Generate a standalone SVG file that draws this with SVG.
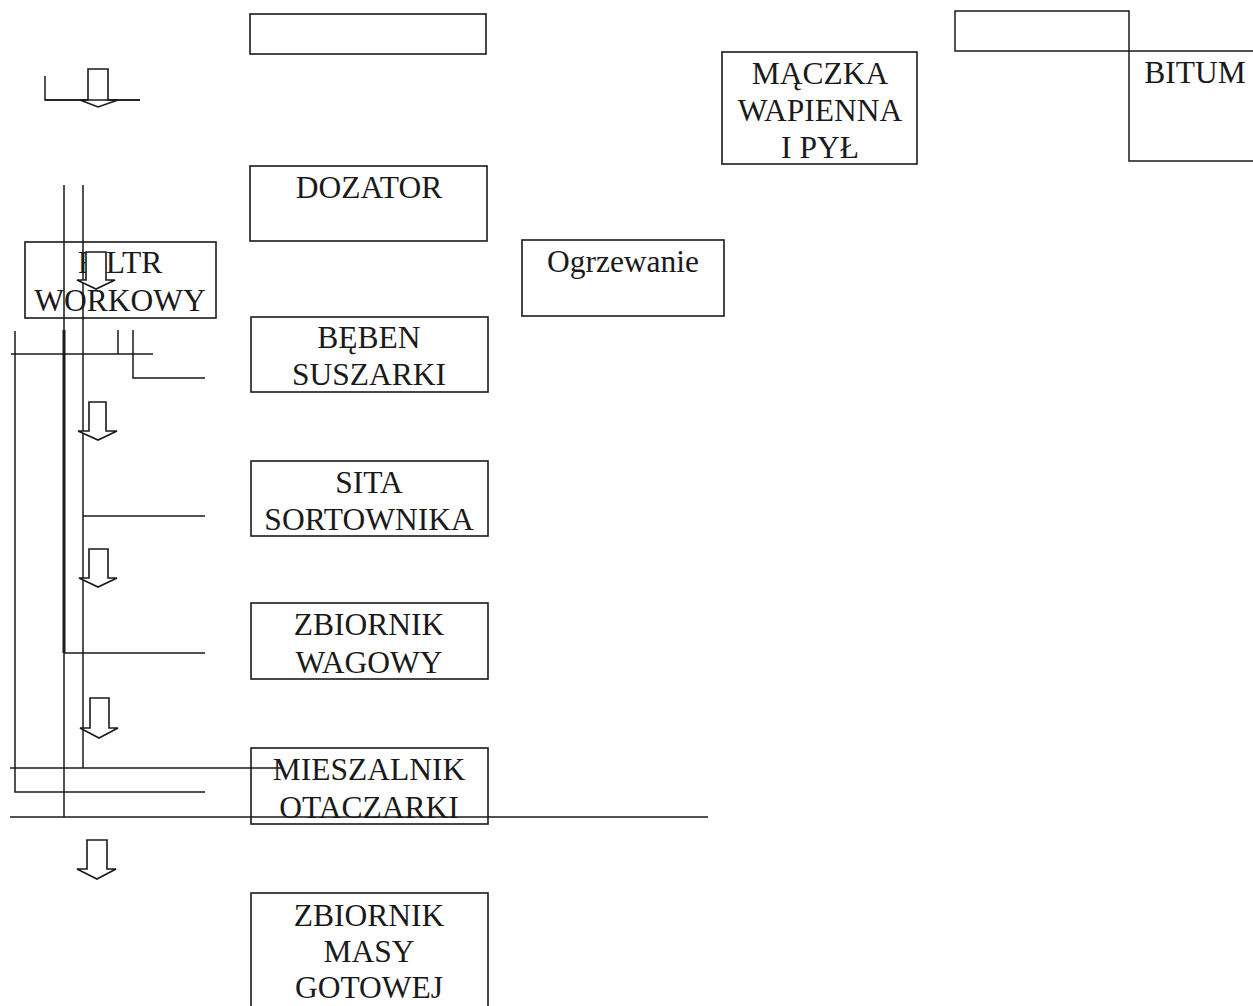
<svg xmlns="http://www.w3.org/2000/svg" width="1253" height="1006" viewBox="0 0 1253 1006">
<style>
.box{fill:#fff;stroke:#1a1a1a;stroke-width:1.6}
.ln{fill:none;stroke:#1a1a1a;stroke-width:1.5}
.thick{fill:none;stroke:#1a1a1a;stroke-width:3}
.arr{fill:#fff;stroke:#1a1a1a;stroke-width:1.6;stroke-linejoin:miter}
text{font-family:"Liberation Serif","Times New Roman",serif;font-size:31.5px;fill:#1a1a1a;text-anchor:middle}
</style>
<rect width="1253" height="1006" fill="#fff"/>
<g id="connectors">
<path class="ln" d="M45 76V100H140"/>
<path class="ln" d="M64 185V330M64 653V817"/>
<path class="thick" d="M64 330V653"/>
<path class="ln" d="M64 653H205"/>
<path class="ln" d="M83 185V768"/>
<path class="ln" d="M83 516H205"/>
<path class="ln" d="M15 331V792H205"/>
<path class="ln" d="M11 354H153"/>
<path class="ln" d="M118 330V354M133 330V378H205"/>
<path class="ln" d="M955 11H1129V51H955ZM1129 51H1253M1129 51V161H1253"/>
</g>
<g id="node-empty"><rect class="box" x="250" y="14" width="236" height="40"/></g>
<g id="node-maczka"><rect class="box" x="722" y="52" width="195" height="112"/>
<text x="820" y="84">MĄCZKA</text><text x="820" y="121">WAPIENNA</text><text x="820" y="158">I PYŁ</text></g>
<g id="node-bitum"><text x="1195" y="83">BITUM</text></g>
<g id="node-dozator"><rect class="box" x="250" y="166" width="237" height="75"/>
<text x="369" y="198">DOZATOR</text></g>
<g id="node-filtr"><rect class="box" x="25" y="242" width="191" height="76" fill-opacity="0"/>
<text x="120" y="273">FILTR</text><text x="120" y="311">WORKOWY</text></g>
<g id="node-ogrzewanie"><rect class="box" x="522" y="240" width="202" height="76"/>
<text x="623" y="272">Ogrzewanie</text></g>
<g id="node-beben"><rect class="box" x="251" y="317" width="237" height="75"/>
<text x="369" y="348">BĘBEN</text><text x="369" y="385">SUSZARKI</text></g>
<g id="node-sita"><rect class="box" x="251" y="461" width="237" height="75"/>
<text x="369" y="493">SITA</text><text x="369" y="530">SORTOWNIKA</text></g>
<g id="node-zbiornik-wagowy"><rect class="box" x="251" y="603" width="237" height="76"/>
<text x="369" y="635">ZBIORNIK</text><text x="369" y="673">WAGOWY</text></g>
<g id="node-mieszalnik"><rect class="box" x="251" y="748" width="237" height="76" fill="none"/>
<text x="369" y="780">MIESZALNIK</text><text x="369" y="818">OTACZARKI</text></g>
<g id="node-zbiornik-masy"><rect class="box" x="251" y="893" width="237" height="120"/>
<text x="369" y="926">ZBIORNIK</text><text x="369" y="962">MASY</text><text x="369" y="998">GOTOWEJ</text></g>
<g id="arrows">
<path class="arr" d="M88 69H108V100H118L98 107L80 100H88Z"/>
<path class="arr" d="M86 252H106V280H115L96 289L77 280H86Z"/>
<path class="arr" d="M89 402H106V431H117L98 440L78 431H89Z"/>
<path class="arr" d="M89 549H108V578H117L98 587L79 578H89Z"/>
<path class="arr" d="M90 698H109V728H118L99 738L80 728H90Z"/>
<path class="arr" d="M87 840H107V869H116L97 879L77 869H87Z"/>
</g>
<g id="connectors-over">
<path class="ln" d="M45 100H140"/>
<path class="ln" d="M10 768H283M10 817H708"/>
</g>
</svg>
